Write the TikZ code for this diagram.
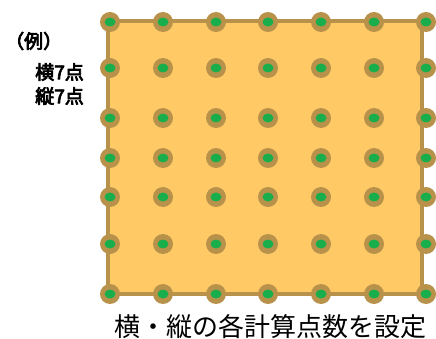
\documentclass[tikz,border=0pt]{standalone}
\usepackage{fontspec}
\usetikzlibrary{shapes.geometric}
\newfontfamily\jp{Noto Sans CJK JP}
\newfontfamily\jpbold{Noto Sans CJK JP}[FakeBold=4]
\definecolor{tan}{HTML}{B8914A}
\definecolor{board}{HTML}{FFC966}
\definecolor{pt}{HTML}{18AE4C}
\begin{document}
\begin{tikzpicture}[x=1pt,y=-1pt,
  dotouter/.style={circle,fill=tan,inner sep=0pt,minimum size=20pt},
  dotinner/.style={ellipse,fill=pt,inner sep=0pt,minimum width=11pt,minimum height=9pt},
  lbl/.style={font=\jpbold\fontsize{19}{21}\selectfont,inner sep=0pt},
  captext/.style={font=\jp\fontsize{26}{28}\selectfont,inner sep=0pt}]
\useasboundingbox (0,0) rectangle (436,339);
\draw[draw=tan,fill=board,line width=4.5pt] (108,21) rectangle (422,294);
\foreach \x [count=\i] in {110,163,216,268,321,374,426}{
  \foreach \y [count=\j] in {22,68,118,158,197,244,294}{
    \node[dotouter] (o\i\j) at (\x,\y) {};
    \node[dotinner] (g\i\j) at (\x,\y) {};
  }
}
\node[lbl,anchor=west] (ex) at (5,41) {（例）};
\node[lbl,anchor=east] (h) at (84,72) {横7点};
\node[lbl,anchor=east] (v) at (84,96) {縦7点};
\node[captext,anchor=east] (c) at (427,327) {横・縦の各計算点数を設定};
\end{tikzpicture}
\end{document}
